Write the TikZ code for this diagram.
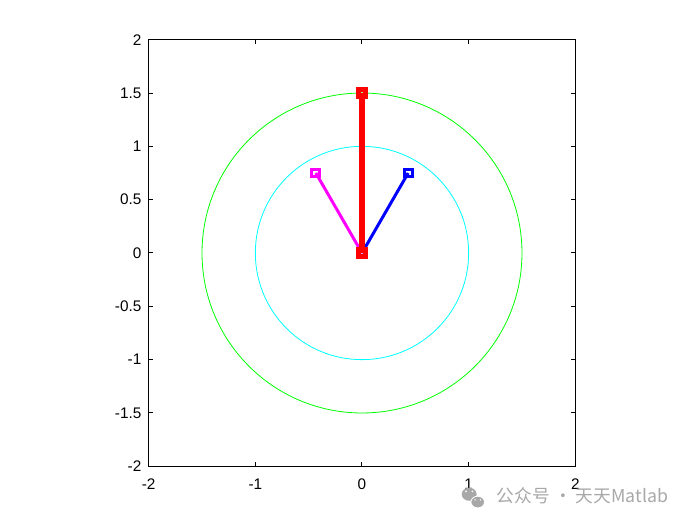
\documentclass[tikz,border=0pt]{standalone}
\usepackage{fontspec}
\setmainfont{Liberation Sans}
\newfontfamily\cjkfont{Noto Sans CJK SC}
\definecolor{plotgreen}{RGB}{0,255,0}
\definecolor{plotcyan}{RGB}{0,255,255}
\definecolor{plotblue}{RGB}{0,0,255}
\definecolor{plotmagenta}{RGB}{255,0,255}
\definecolor{plotred}{RGB}{255,0,0}
\definecolor{wmgray}{RGB}{168,168,168}
\begin{document}
\begin{tikzpicture}[x=80pt,y=80pt,
  ticklabel/.style={inner sep=0pt, font=\fontsize{11.5}{13}\selectfont},
  thinmark/.style={line width=2.25pt},
  thickmark/.style={line width=3.75pt}]
\useasboundingbox (-3.394,-2.550) rectangle (3.169,2.372);

% circles
\draw [plotgreen, line width=0.6pt] (0,0) circle(1.5);
\draw [plotcyan, line width=0.6pt] (0,0) circle(1);

% arms
\draw [plotmagenta, line width=2.25pt] (0,0) -- (-0.433,0.75);
\draw [plotblue, line width=2.25pt] (0,0) -- (0.433,0.75);
\draw [plotred, line width=4.5pt] (0,0) -- (0,1.5);

% markers
\draw [plotmagenta, thinmark] (-0.433,0.75) ++(-3pt,-3pt) rectangle ++(6pt,6pt);
\draw [plotblue, thinmark] (0.433,0.75) ++(-3pt,-3pt) rectangle ++(6pt,6pt);
\draw [plotred, thickmark] (0,1.5) ++(-2.6pt,-2.6pt) rectangle ++(5.2pt,5.2pt);
\draw [plotred, thickmark] (0,0) ++(-2.6pt,-2.6pt) rectangle ++(5.2pt,5.2pt);

% axes box and ticks
\draw [line width=0.75pt] (-2,-2) rectangle (2,2);
\foreach \t in {-2,-1,0,1,2} {
  \draw [line width=0.75pt] (\t,-2) -- ++(0,0.042);
  \draw [line width=0.75pt] (\t,2) -- ++(0,-0.042);
  \node [ticklabel, anchor=north] (xl\t) at (\t,-2.112) {\t};
}
\foreach \t in {-2,-1.5,-1,-0.5,0,0.5,1,1.5,2} {
  \draw [line width=0.75pt] (-2,\t) -- ++(0.042,0);
  \draw [line width=0.75pt] (2,\t) -- ++(-0.042,0);
  \node [ticklabel, anchor=east] (yl\t) at (-2.066,\t) {\t};
}

% watermark
\fill [wmgray] (1.005,-2.262) ellipse (5.6pt and 4.9pt);
\fill [wmgray, draw=white, line width=0.6pt] (1.085,-2.335) ellipse (5.1pt and 4.4pt);
\fill [white] (0.975,-2.235) circle(0.7pt) (1.035,-2.235) circle(0.7pt);
\fill [white] (1.06,-2.315) circle(0.6pt) (1.11,-2.315) circle(0.6pt);
\node [anchor=west, inner sep=0pt, text=wmgray, font=\cjkfont\fontsize{13.3}{15}\selectfont] (wm) at (1.262,-2.28) {公众号 · 天天Matlab};
\end{tikzpicture}
\end{document}
